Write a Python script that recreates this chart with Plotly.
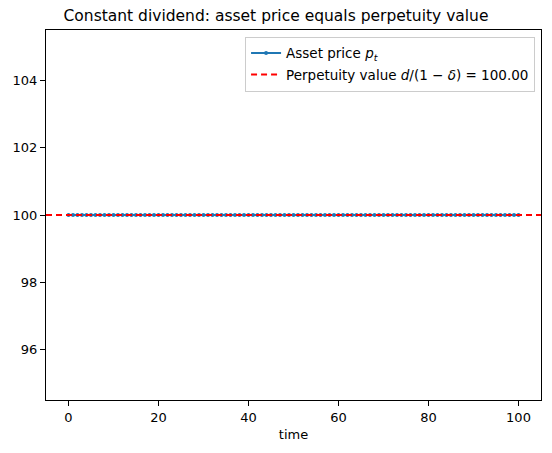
import plotly.graph_objects as go

# 定数配当: 資産価格は永久年金価値に等しい
time = list(range(0, 101))
asset_price = [100.0] * len(time)
perpetuity_value = 100.0

fig = go.Figure()

fig.add_trace(go.Scatter(
    x=time,
    y=asset_price,
    mode="lines+markers",
    line=dict(color="#1f77b4", width=2),
    marker=dict(color="#1f77b4", size=4),
    name="Asset price <i>p</i><sub><i>t</i></sub>",
    legendgroup="a",
))

# 水平の破線 (axhline相当)
fig.add_shape(
    type="line", xref="paper", x0=0, x1=1, yref="y",
    y0=perpetuity_value, y1=perpetuity_value,
    line=dict(color="red", width=2, dash="6px,4px"),
    showlegend=True, legendgroup="b",
    name="Perpetuity value <i>d</i>/(1 − <i>δ</i>) = %.2f" % perpetuity_value,
)

fig.update_layout(
    width=552, height=453,
    margin=dict(l=46, r=11, t=30, b=53),
    plot_bgcolor="white", paper_bgcolor="white",
    font=dict(family="DejaVu Sans", size=13, color="black"),
    title=dict(text="Constant dividend: asset price equals perpetuity value",
               x=0.5, xanchor="center", y=1 - 16 / 453, yanchor="middle",
               font=dict(size=15.5)),
    legend=dict(x=0.988, y=0.982, xanchor="right", yanchor="top",
                bgcolor="rgba(255,255,255,0.8)", bordercolor="#cccccc",
                borderwidth=1, font=dict(size=13.5),
                traceorder="grouped", tracegroupgap=1),
    showlegend=True,
)
fig.update_xaxes(range=[-5, 105], tickvals=[0, 20, 40, 60, 80, 100],
                 showgrid=False, zeroline=False, showline=True, mirror=True,
                 linecolor="black", linewidth=1, ticks="outside",
                 ticklen=5, tickcolor="black", tickfont=dict(size=13),
                 title=dict(text="time", standoff=6, font=dict(size=13)))
fig.update_yaxes(range=[94.5, 105.5], tickvals=[96, 98, 100, 102, 104],
                 showgrid=False, zeroline=False, showline=True, mirror=True,
                 linecolor="black", linewidth=1, ticks="outside",
                 ticklen=5, tickcolor="black", tickfont=dict(size=13))

fig.write_html("out.html", config={"displayModeBar": False},
               post_script="document.body.style.margin='0';")
